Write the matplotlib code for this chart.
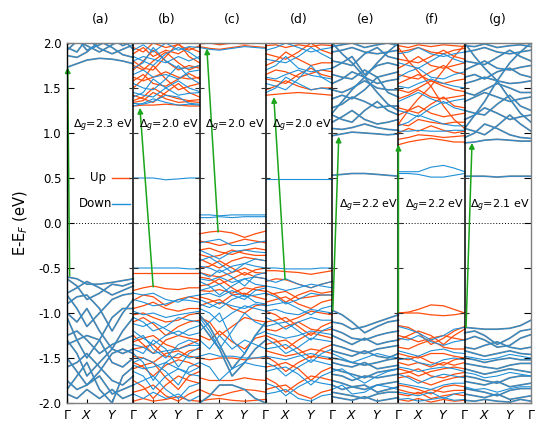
import matplotlib
matplotlib.use("Agg")
import matplotlib.pyplot as plt

# ---------------- data ----------------
PANELS = ["(a)", "(b)", "(c)", "(d)", "(e)", "(f)", "(g)"]
GAPS = ["2.3", "2.0", "2.0", "2.0", "2.2", "2.2", "2.1"]
KPATH = [0.0, 0.15, 0.30, 0.49, 0.68, 0.84, 1.0]   # Γ ... X ... Y ... Γ
KLABELS = [r"$\Gamma$", r"$X$", r"$Y$"]
KLABEL_POS = [0.0, 0.30, 0.68]

# arrow (VBM -> CBM) per panel: k-position within panel and energy
VBM_K = [0.04, 0.30, 0.28, 0.29, 0.01, 0.0, 0.02]
VBM_E = [-0.59, -0.71, -0.10, -0.63, -0.97, -0.99, -1.16]
CBM_K = [0.01, 0.10, 0.11, 0.12, 0.10, 0.0, 0.11]
CBM_E = [1.73, 1.28, 1.94, 1.40, 0.96, 0.87, 0.89]

A_BOTH = [
    [1.73, 1.77, 1.81, 1.83, 1.82, 1.80, 1.77],
    [1.86, 1.84, 1.90, 2.02, 1.95, 1.87, 1.84],
    [1.92, 2.02, 1.97, 1.90, 1.98, 2.04, 1.93],
    [1.95, 1.90, 2.05, 1.94, 1.88, 1.93, 1.98],
    [1.98, 2.05, 1.92, 1.98, 2.05, 1.97, 2.02],
    [-0.60, -0.62, -0.68, -0.68, -0.66, -0.64, -0.62],
    [-0.62, -0.70, -0.85, -0.78, -0.68, -0.70, -0.66],
    [-0.78, -0.72, -0.65, -0.72, -0.80, -0.75, -0.70],
    [-0.80, -0.95, -1.15, -1.00, -0.85, -0.80, -0.78],
    [-0.90, -0.82, -0.80, -0.95, -1.20, -1.00, -0.85],
    [-1.00, -1.10, -0.95, -1.20, -1.40, -1.20, -1.05],
    [-1.05, -1.30, -1.50, -1.30, -1.05, -0.95, -0.95],
    [-1.25, -1.20, -1.30, -1.45, -1.35, -1.30, -1.25],
    [-1.30, -1.45, -1.70, -1.55, -1.40, -1.45, -1.40],
    [-1.35, -1.30, -1.25, -1.30, -1.55, -1.60, -1.50],
    [-1.50, -1.65, -1.80, -1.65, -1.45, -1.40, -1.45],
    [-1.60, -1.55, -1.45, -1.60, -1.75, -1.80, -1.70],
    [-1.75, -1.85, -1.80, -1.70, -1.90, -1.85, -1.80],
    [-1.90, -1.95, -1.85, -1.95, -1.85, -1.95, -1.90],
    [-1.85, -1.70, -1.55, -1.85, -2.00, -1.70, -1.60],
]
A_UP = []
A_DOWN = []

B_BOTH = []
B_UP = [
    [1.30, 1.31, 1.31, 1.32, 1.31, 1.30, 1.30],
    [1.34, 1.36, 1.45, 1.38, 1.34, 1.35, 1.34],
    [1.36, 1.40, 1.50, 1.42, 1.38, 1.36, 1.37],
    [1.42, 1.38, 1.34, 1.45, 1.55, 1.45, 1.40],
    [1.50, 1.60, 1.75, 1.60, 1.48, 1.52, 1.55],
    [1.58, 1.65, 1.55, 1.52, 1.60, 1.66, 1.60],
    [1.62, 1.58, 1.62, 1.68, 1.62, 1.60, 1.62],
    [1.70, 1.80, 1.92, 1.80, 1.70, 1.75, 1.72],
    [1.75, 1.70, 1.80, 1.90, 1.78, 1.70, 1.75],
    [1.80, 1.72, 1.70, 1.85, 2.00, 1.85, 1.78],
    [1.88, 1.95, 1.85, 1.92, 1.88, 1.95, 1.90],
    [1.95, 1.90, 2.00, 1.95, 1.98, 1.92, 1.97],
    [-0.55, -0.55, -0.55, -0.55, -0.55, -0.55, -0.55],
    [-0.75, -0.72, -0.70, -0.73, -0.74, -0.72, -0.72],
    [-0.86, -0.80, -0.82, -0.92, -0.85, -0.82, -0.85],
    [-0.95, -0.92, -0.88, -0.95, -0.98, -0.95, -0.95],
    [-1.02, -1.00, -1.05, -1.10, -1.08, -1.02, -1.00],
    [-1.10, -1.05, -1.12, -1.25, -1.15, -1.10, -1.08],
    [-1.25, -1.35, -1.45, -1.30, -1.25, -1.28, -1.30],
    [-1.32, -1.28, -1.25, -1.35, -1.40, -1.35, -1.30],
    [-1.40, -1.38, -1.35, -1.48, -1.50, -1.42, -1.40],
    [-1.48, -1.50, -1.55, -1.45, -1.42, -1.48, -1.50],
    [-1.55, -1.60, -1.70, -1.58, -1.52, -1.55, -1.60],
    [-1.62, -1.58, -1.55, -1.72, -1.85, -1.70, -1.65],
    [-1.75, -1.82, -1.95, -1.80, -1.70, -1.75, -1.78],
    [-1.88, -1.85, -1.80, -1.92, -1.98, -1.90, -1.85],
    [-1.98, -1.95, -1.98, -1.96, -1.93, -1.97, -1.98],
]
B_DOWN = [
    [1.30, 1.33, 1.38, 1.34, 1.31, 1.32, 1.31],
    [1.33, 1.32, 1.35, 1.42, 1.40, 1.33, 1.32],
    [1.40, 1.45, 1.60, 1.50, 1.42, 1.44, 1.45],
    [1.45, 1.42, 1.40, 1.50, 1.58, 1.50, 1.46],
    [1.55, 1.50, 1.48, 1.60, 1.75, 1.62, 1.55],
    [1.65, 1.70, 1.62, 1.65, 1.60, 1.68, 1.70],
    [1.72, 1.78, 1.95, 1.80, 1.72, 1.72, 1.75],
    [1.80, 1.85, 1.82, 1.78, 1.85, 1.80, 1.85],
    [1.85, 1.80, 1.75, 1.88, 1.95, 1.90, 1.82],
    [1.92, 1.98, 1.90, 2.00, 1.92, 1.96, 1.95],
    [0.50, 0.50, 0.50, 0.48, 0.49, 0.50, 0.50],
    [-0.50, -0.50, -0.50, -0.50, -0.50, -0.51, -0.51],
    [-0.78, -0.80, -0.78, -0.85, -0.88, -0.82, -0.80],
    [-0.85, -0.88, -0.92, -0.90, -0.85, -0.86, -0.88],
    [-0.98, -1.02, -1.00, -1.05, -1.02, -1.00, -0.98],
    [-1.05, -1.10, -1.20, -1.15, -1.05, -1.08, -1.10],
    [-1.12, -1.15, -1.10, -1.18, -1.25, -1.18, -1.14],
    [-1.20, -1.28, -1.35, -1.25, -1.20, -1.25, -1.22],
    [-1.30, -1.25, -1.40, -1.50, -1.35, -1.30, -1.35],
    [-1.35, -1.38, -1.45, -1.42, -1.40, -1.36, -1.36],
    [-1.40, -1.45, -1.30, -1.40, -1.60, -1.45, -1.38],
    [-1.45, -1.55, -1.75, -1.55, -1.45, -1.50, -1.48],
    [-1.55, -1.50, -1.55, -1.65, -1.80, -1.60, -1.55],
    [-1.58, -1.62, -1.60, -1.55, -1.62, -1.66, -1.60],
    [-1.65, -1.70, -1.85, -1.70, -1.62, -1.68, -1.70],
    [-1.80, -1.75, -1.70, -1.85, -1.95, -1.82, -1.78],
    [-1.90, -1.95, -1.88, -1.95, -1.90, -1.98, -1.92],
]

C_BOTH = [
    [-1.02, -1.15, -1.35, -1.62, -1.45, -1.25, -1.10],
    [-1.10, -1.25, -1.40, -1.70, -1.55, -1.40, -1.30],
    [-2.00, -1.92, -1.80, -1.80, -1.85, -1.95, -2.00],
]
C_UP = [
    [1.96, 1.94, 1.93, 1.95, 1.97, 1.96, 1.95],
    [1.99, 2.00, 1.98, 2.00, 1.99, 2.00, 2.00],
    [-0.12, -0.10, -0.09, -0.11, -0.16, -0.12, -0.09],
    [-0.20, -0.22, -0.25, -0.22, -0.18, -0.20, -0.22],
    [-0.30, -0.28, -0.32, -0.35, -0.30, -0.28, -0.30],
    [-0.35, -0.38, -0.36, -0.30, -0.34, -0.36, -0.36],
    [-0.40, -0.45, -0.50, -0.42, -0.38, -0.40, -0.42],
    [-0.50, -0.48, -0.42, -0.50, -0.58, -0.52, -0.50],
    [-0.55, -0.58, -0.60, -0.55, -0.50, -0.55, -0.56],
    [-0.60, -0.62, -0.68, -0.62, -0.55, -0.60, -0.62],
    [-0.70, -0.68, -0.62, -0.72, -0.80, -0.72, -0.70],
    [-0.75, -0.76, -0.74, -0.78, -0.72, -0.74, -0.76],
    [-0.82, -0.85, -0.90, -0.80, -0.78, -0.82, -0.85],
    [-0.92, -0.88, -0.85, -0.95, -1.00, -0.92, -0.90],
    [-1.05, -1.10, -1.25, -1.15, -1.05, -1.08, -1.10],
    [-1.25, -1.30, -1.20, -1.32, -1.40, -1.28, -1.25],
    [-1.50, -1.52, -1.50, -1.50, -1.52, -1.50, -1.50],
    [-1.72, -1.75, -1.75, -1.75, -1.72, -1.74, -1.75],
    [-1.85, -1.90, -1.92, -1.88, -1.85, -1.86, -1.88],
    [-1.98, -1.96, -1.95, -1.97, -1.98, -1.97, -1.96],
]
C_DOWN = [
    [1.95, 1.93, 1.92, 1.94, 1.96, 1.95, 1.94],
    [0.06, 0.06, 0.07, 0.06, 0.07, 0.07, 0.07],
    [0.09, 0.09, 0.08, 0.09, 0.09, 0.09, 0.09],
    [-0.22, -0.20, -0.18, -0.25, -0.25, -0.22, -0.20],
    [-0.30, -0.35, -0.40, -0.32, -0.30, -0.32, -0.33],
    [-0.42, -0.38, -0.45, -0.55, -0.45, -0.40, -0.42],
    [-0.48, -0.50, -0.55, -0.48, -0.45, -0.48, -0.50],
    [-0.55, -0.60, -0.52, -0.60, -0.70, -0.58, -0.55],
    [-0.62, -0.64, -0.60, -0.66, -0.62, -0.60, -0.62],
    [-0.65, -0.70, -0.80, -0.70, -0.62, -0.68, -0.70],
    [-0.75, -0.72, -0.68, -0.80, -0.85, -0.75, -0.72],
    [-0.80, -0.78, -0.82, -0.75, -0.82, -0.80, -0.78],
    [-0.85, -0.90, -0.95, -0.85, -0.80, -0.88, -0.90],
    [-0.90, -0.94, -0.88, -0.92, -0.95, -0.90, -0.92],
    [-0.95, -1.00, -1.10, -1.00, -0.92, -0.95, -0.98],
    [-1.05, -1.20, -1.40, -1.20, -1.00, -1.10, -1.15],
    [-1.20, -1.10, -1.00, -1.30, -1.45, -1.25, -1.20],
    [-1.30, -1.40, -1.25, -1.40, -1.30, -1.35, -1.40],
    [-1.48, -1.45, -1.48, -1.48, -1.50, -1.50, -1.48],
    [-1.55, -1.60, -1.75, -1.62, -1.55, -1.58, -1.60],
]

D_BOTH = []
D_UP = [
    [1.42, 1.43, 1.44, 1.45, 1.44, 1.43, 1.42],
    [1.48, 1.52, 1.58, 1.52, 1.48, 1.50, 1.50],
    [1.60, 1.58, 1.55, 1.65, 1.72, 1.65, 1.62],
    [1.65, 1.70, 1.68, 1.62, 1.66, 1.70, 1.68],
    [1.75, 1.80, 1.90, 1.82, 1.75, 1.78, 1.78],
    [1.88, 1.85, 1.82, 1.90, 2.00, 1.92, 1.88],
    [1.97, 1.98, 1.95, 1.98, 1.96, 1.98, 1.97],
    [-0.53, -0.53, -0.54, -0.55, -0.57, -0.55, -0.53],
    [-0.65, -0.62, -0.63, -0.68, -0.72, -0.68, -0.65],
    [-0.75, -0.80, -0.88, -0.80, -0.75, -0.78, -0.76],
    [-0.80, -0.78, -0.76, -0.84, -0.82, -0.80, -0.80],
    [-0.88, -0.85, -0.82, -0.90, -0.95, -0.88, -0.85],
    [-0.98, -1.02, -1.10, -1.05, -0.98, -1.00, -1.02],
    [-1.10, -1.08, -1.05, -1.15, -1.25, -1.15, -1.10],
    [-1.18, -1.20, -1.15, -1.10, -1.18, -1.20, -1.18],
    [-1.25, -1.30, -1.40, -1.30, -1.22, -1.25, -1.28],
    [-1.35, -1.32, -1.30, -1.40, -1.50, -1.40, -1.35],
    [-1.42, -1.45, -1.48, -1.45, -1.40, -1.42, -1.45],
    [-1.48, -1.55, -1.65, -1.55, -1.48, -1.50, -1.52],
    [-1.60, -1.58, -1.55, -1.62, -1.75, -1.65, -1.60],
    [-1.72, -1.78, -1.88, -1.78, -1.70, -1.72, -1.75],
    [-1.85, -1.82, -1.80, -1.90, -1.95, -1.88, -1.85],
]
D_DOWN = [
    [1.45, 1.50, 1.62, 1.55, 1.48, 1.50, 1.48],
    [1.55, 1.52, 1.48, 1.60, 1.75, 1.62, 1.55],
    [1.62, 1.60, 1.65, 1.70, 1.64, 1.62, 1.60],
    [1.70, 1.75, 1.85, 1.72, 1.68, 1.70, 1.72],
    [1.82, 1.80, 1.78, 1.85, 1.95, 1.88, 1.82],
    [1.92, 1.95, 2.00, 1.95, 1.90, 1.93, 1.95],
    [0.49, 0.49, 0.49, 0.49, 0.49, 0.49, 0.49],
    [-0.50, -0.50, -0.51, -0.51, -0.51, -0.50, -0.50],
    [-0.63, -0.66, -0.62, -0.68, -0.72, -0.68, -0.65],
    [-0.70, -0.72, -0.75, -0.72, -0.68, -0.70, -0.72],
    [-0.78, -0.82, -0.90, -0.85, -0.78, -0.80, -0.80],
    [-0.92, -0.90, -0.88, -0.95, -1.02, -0.95, -0.92],
    [-0.98, -0.96, -1.00, -1.02, -0.96, -0.98, -1.00],
    [-1.05, -1.10, -1.18, -1.10, -1.05, -1.08, -1.08],
    [-1.15, -1.12, -1.10, -1.20, -1.30, -1.20, -1.15],
    [-1.22, -1.25, -1.28, -1.25, -1.20, -1.22, -1.24],
    [-1.28, -1.35, -1.45, -1.38, -1.28, -1.30, -1.32],
    [-1.40, -1.38, -1.35, -1.45, -1.55, -1.45, -1.40],
    [-1.48, -1.50, -1.52, -1.48, -1.45, -1.48, -1.50],
    [-1.55, -1.60, -1.70, -1.60, -1.52, -1.55, -1.58],
    [-1.65, -1.62, -1.60, -1.68, -1.80, -1.70, -1.65],
    [-1.78, -1.82, -1.92, -1.82, -1.75, -1.78, -1.80],
    [-1.90, -1.88, -1.85, -1.95, -1.98, -1.92, -1.90],
]

E_BOTH = [
    [0.97, 0.99, 1.01, 1.00, 0.99, 0.98, 0.99],
    [1.05, 1.04, 1.06, 1.10, 1.06, 1.04, 1.03],
    [1.12, 1.18, 1.25, 1.15, 1.10, 1.12, 1.15],
    [1.20, 1.15, 1.12, 1.25, 1.35, 1.25, 1.20],
    [1.28, 1.32, 1.40, 1.35, 1.28, 1.30, 1.30],
    [1.38, 1.42, 1.38, 1.48, 1.62, 1.45, 1.40],
    [1.48, 1.45, 1.50, 1.58, 1.50, 1.48, 1.48],
    [1.55, 1.60, 1.68, 1.62, 1.55, 1.58, 1.60],
    [1.65, 1.62, 1.60, 1.70, 1.62, 1.65, 1.68],
    [1.72, 1.78, 1.85, 1.65, 1.75, 1.78, 1.75],
    [1.80, 1.78, 1.75, 1.88, 1.95, 1.85, 1.82],
    [1.90, 1.92, 1.95, 1.90, 1.88, 1.90, 1.92],
    [1.96, 1.98, 2.00, 1.95, 1.98, 2.00, 1.97],
    [2.00, 1.88, 1.78, 1.62, 1.45, 1.32, 1.25],
    [1.22, 1.35, 1.48, 1.62, 1.78, 1.90, 2.00],
    [0.53, 0.54, 0.55, 0.55, 0.54, 0.53, 0.52],
    [-0.97, -1.02, -1.10, -1.22, -1.15, -1.10, -1.08],
    [-1.10, -1.12, -1.18, -1.15, -1.10, -1.06, -1.02],
    [-1.18, -1.22, -1.28, -1.30, -1.25, -1.22, -1.20],
    [-1.25, -1.30, -1.35, -1.28, -1.35, -1.32, -1.30],
    [-1.35, -1.38, -1.42, -1.45, -1.40, -1.38, -1.36],
    [-1.42, -1.45, -1.48, -1.42, -1.48, -1.50, -1.45],
    [-1.50, -1.52, -1.55, -1.58, -1.55, -1.52, -1.50],
    [-1.55, -1.58, -1.60, -1.55, -1.62, -1.60, -1.58],
    [-1.62, -1.65, -1.68, -1.72, -1.66, -1.64, -1.62],
    [-1.68, -1.70, -1.75, -1.70, -1.72, -1.70, -1.68],
    [-1.75, -1.78, -1.82, -1.85, -1.80, -1.78, -1.76],
    [-1.80, -1.85, -1.82, -1.80, -1.88, -1.85, -1.82],
    [-1.88, -1.90, -1.92, -1.95, -1.90, -1.88, -1.88],
    [-1.93, -1.95, -1.97, -1.93, -1.98, -1.96, -1.94],
]
E_UP = []
E_DOWN = [
    [-1.45, -1.50, -1.55, -1.50, -1.45, -1.48, -1.50],
    [-1.65, -1.62, -1.70, -1.78, -1.70, -1.65, -1.62],
    [-1.85, -1.80, -1.90, -1.88, -1.80, -1.82, -1.85],
]

F_BOTH = []
F_UP = [
    [0.87, 0.90, 0.92, 0.94, 0.92, 0.90, 0.90],
    [0.93, 0.95, 0.98, 0.97, 0.95, 0.96, 0.97],
    [1.00, 1.05, 1.02, 1.08, 1.03, 1.00, 1.02],
    [1.10, 1.08, 1.15, 1.12, 1.10, 1.12, 1.12],
    [1.20, 1.25, 1.30, 1.22, 1.18, 1.20, 1.22],
    [1.28, 1.25, 1.22, 1.32, 1.40, 1.30, 1.28],
    [1.38, 1.42, 1.48, 1.40, 1.38, 1.40, 1.42],
    [1.48, 1.45, 1.50, 1.58, 1.52, 1.48, 1.46],
    [1.55, 1.60, 1.65, 1.58, 1.55, 1.58, 1.60],
    [1.65, 1.62, 1.60, 1.68, 1.75, 1.68, 1.65],
    [1.72, 1.78, 1.85, 1.75, 1.72, 1.75, 1.78],
    [1.82, 1.80, 1.78, 1.85, 1.92, 1.85, 1.82],
    [1.90, 1.92, 1.95, 1.90, 1.88, 1.92, 1.94],
    [1.97, 1.95, 1.98, 1.96, 1.98, 1.97, 1.96],
    [1.95, 1.80, 1.68, 1.52, 1.30, 1.15, 1.05],
    [1.10, 1.25, 1.38, 1.52, 1.70, 1.85, 1.98],
    [-1.00, -1.00, -1.00, -1.02, -1.03, -1.02, -1.00],
    [-1.00, -0.99, -0.96, -0.91, -0.92, -0.96, -1.00],
    [-1.14, -1.16, -1.22, -1.35, -1.28, -1.20, -1.15],
    [-1.25, -1.28, -1.32, -1.28, -1.25, -1.28, -1.30],
    [-1.30, -1.25, -1.20, -1.25, -1.35, -1.25, -1.18],
    [-1.38, -1.40, -1.35, -1.30, -1.38, -1.40, -1.40],
    [-1.45, -1.48, -1.50, -1.45, -1.45, -1.48, -1.50],
    [-1.50, -1.52, -1.48, -1.55, -1.58, -1.52, -1.50],
    [-1.55, -1.58, -1.55, -1.60, -1.55, -1.58, -1.55],
    [-1.62, -1.65, -1.70, -1.65, -1.62, -1.60, -1.62],
    [-1.68, -1.66, -1.62, -1.70, -1.72, -1.68, -1.66],
    [-1.72, -1.70, -1.75, -1.80, -1.75, -1.72, -1.70],
    [-1.80, -1.82, -1.85, -1.90, -1.82, -1.80, -1.82],
    [-1.85, -1.88, -1.90, -1.85, -1.88, -1.86, -1.86],
    [-1.90, -1.92, -1.88, -1.95, -1.92, -1.90, -1.92],
    [-1.96, -1.98, -1.95, -1.99, -1.96, -1.98, -1.97],
]
F_DOWN = [
    [1.02, 1.02, 1.03, 1.02, 1.02, 1.03, 1.03],
    [1.08, 1.12, 1.20, 1.15, 1.10, 1.08, 1.08],
    [1.25, 1.22, 1.18, 1.28, 1.35, 1.28, 1.25],
    [1.35, 1.40, 1.45, 1.38, 1.33, 1.36, 1.38],
    [1.52, 1.50, 1.55, 1.60, 1.55, 1.52, 1.50],
    [1.62, 1.68, 1.72, 1.62, 1.60, 1.65, 1.68],
    [1.78, 1.75, 1.72, 1.80, 1.88, 1.82, 1.78],
    [1.88, 1.90, 1.95, 1.88, 1.85, 1.88, 1.90],
    [0.57, 0.57, 0.57, 0.62, 0.64, 0.61, 0.57],
    [0.55, 0.55, 0.54, 0.51, 0.51, 0.53, 0.55],
    [-1.15, -1.18, -1.22, -1.30, -1.25, -1.18, -1.16],
    [-1.28, -1.30, -1.25, -1.32, -1.36, -1.32, -1.30],
    [-1.42, -1.45, -1.48, -1.42, -1.40, -1.44, -1.45],
    [-1.52, -1.50, -1.55, -1.58, -1.52, -1.50, -1.52],
    [-1.60, -1.62, -1.65, -1.62, -1.60, -1.62, -1.65],
    [-1.68, -1.72, -1.78, -1.72, -1.68, -1.70, -1.72],
    [-1.78, -1.80, -1.82, -1.85, -1.80, -1.78, -1.78],
    [-1.88, -1.90, -1.92, -1.88, -1.95, -1.90, -1.88],
    [-1.96, -1.95, -1.98, -1.96, -1.94, -1.97, -1.96],
]

G_BOTH = [
    [0.89, 0.90, 0.92, 0.93, 0.92, 0.91, 0.91],
    [0.95, 1.00, 1.10, 1.05, 0.98, 0.95, 0.94],
    [1.05, 1.02, 0.98, 1.08, 1.20, 1.10, 1.02],
    [1.15, 1.20, 1.28, 1.22, 1.15, 1.18, 1.20],
    [1.25, 1.22, 1.20, 1.32, 1.42, 1.30, 1.25],
    [1.35, 1.40, 1.45, 1.40, 1.35, 1.38, 1.40],
    [1.45, 1.42, 1.48, 1.55, 1.50, 1.45, 1.45],
    [1.55, 1.58, 1.62, 1.58, 1.55, 1.56, 1.58],
    [1.62, 1.65, 1.60, 1.68, 1.72, 1.65, 1.62],
    [1.70, 1.75, 1.80, 1.72, 1.70, 1.73, 1.75],
    [1.80, 1.78, 1.76, 1.84, 1.92, 1.85, 1.80],
    [1.90, 1.92, 1.95, 1.90, 1.88, 1.90, 1.92],
    [1.97, 1.96, 1.99, 1.95, 1.97, 1.98, 1.96],
    [2.00, 1.85, 1.72, 1.58, 1.38, 1.22, 1.12],
    [1.05, 1.20, 1.35, 1.58, 1.78, 1.90, 2.00],
    [0.52, 0.52, 0.52, 0.51, 0.52, 0.52, 0.52],
    [-1.16, -1.17, -1.18, -1.18, -1.17, -1.14, -1.08],
    [-1.22, -1.20, -1.25, -1.35, -1.28, -1.20, -1.18],
    [-1.30, -1.26, -1.30, -1.38, -1.36, -1.28, -1.24],
    [-1.38, -1.40, -1.36, -1.32, -1.38, -1.40, -1.38],
    [-1.42, -1.45, -1.48, -1.45, -1.42, -1.45, -1.46],
    [-1.50, -1.52, -1.55, -1.52, -1.50, -1.52, -1.52],
    [-1.56, -1.58, -1.60, -1.62, -1.58, -1.56, -1.56],
    [-1.62, -1.65, -1.68, -1.65, -1.62, -1.64, -1.66],
    [-1.70, -1.72, -1.75, -1.78, -1.72, -1.70, -1.70],
    [-1.76, -1.78, -1.80, -1.76, -1.82, -1.80, -1.78],
    [-1.84, -1.86, -1.88, -1.92, -1.86, -1.84, -1.84],
    [-1.90, -1.92, -1.94, -1.90, -1.96, -1.94, -1.92],
    [-1.97, -1.98, -1.96, -1.98, -1.99, -1.96, -1.98],
]
G_UP = []
G_DOWN = [
    [-1.48, -1.50, -1.52, -1.50, -1.46, -1.48, -1.50],
    [-1.66, -1.68, -1.72, -1.70, -1.66, -1.68, -1.70],
    [-1.82, -1.85, -1.84, -1.88, -1.84, -1.82, -1.82],
]

BOTH = [A_BOTH, B_BOTH, C_BOTH, D_BOTH, E_BOTH, F_BOTH, G_BOTH]
UP = [A_UP, B_UP, C_UP, D_UP, E_UP, F_UP, G_UP]
DOWN = [A_DOWN, B_DOWN, C_DOWN, D_DOWN, E_DOWN, F_DOWN, G_DOWN]

# ---------------- style ----------------
C_UPCOL = "#ff4d0d"
C_DOWNCOL = "#1f90d8"
C_GREY = "#6f8294"
C_ARROW = "#1aa51a"

plt.rcParams["font.family"] = ["DejaVu Sans"]
fig = plt.figure(figsize=(5.53, 4.30), dpi=100)
ax = fig.add_axes([67 / 553, 1 - 403 / 430, 464 / 553, 360 / 430])
n = len(PANELS)
ax.set_xlim(0, n)
ax.set_ylim(-2.0, 2.0)

for i in range(n):
    xs = [i + k for k in KPATH]
    for b in UP[i]:
        ax.plot(xs, b, color=C_UPCOL, lw=0.9, zorder=2, solid_joinstyle="round")
    for b in DOWN[i]:
        ax.plot(xs, b, color=C_DOWNCOL, lw=0.8, zorder=3, solid_joinstyle="round")
    for b in BOTH[i]:
        ax.plot(xs, b, color=C_GREY, lw=1.25, zorder=2, solid_joinstyle="round")
        ax.plot(xs, b, color=C_DOWNCOL, lw=0.55, zorder=3, solid_joinstyle="round")

# zero line
ax.axhline(0.0, color="black", lw=0.7, ls=(0, (1, 2)), zorder=1)

# panel separators and their ticks
yt = [-2.0, -1.5, -1.0, -0.5, 0.0, 0.5, 1.0, 1.5, 2.0]
for i in range(1, n):
    ax.axvline(i, color="black", lw=1.1, zorder=5)
    ax.hlines(yt, i - 0.07, i + 0.07, color="#333333", lw=0.8, zorder=5)

# arrows
for i in range(n):
    ax.annotate("", xy=(i + CBM_K[i], CBM_E[i]), xytext=(i + VBM_K[i], VBM_E[i]),
                arrowprops=dict(arrowstyle="-|>", color=C_ARROW, lw=1.1,
                                mutation_scale=8, shrinkA=0, shrinkB=0),
                zorder=6)

# gap labels
for i in range(n):
    yy = 1.08 if i < 4 else 0.19
    ax.text(i + 0.99, yy, r"$\Delta_g$=" + GAPS[i] + " eV", ha="right", va="center",
            fontsize=8, zorder=7)

# panel titles
for i in range(n):
    ax.text(i + 0.5, 2.26, PANELS[i], ha="center", va="center", fontsize=9)

# legend (Up / Down) inside panel (a)
ax.text(0.084, 0.625, "Up", transform=ax.transAxes, ha="right", va="center", fontsize=8.5)
ax.plot([0.097, 0.136], [0.625, 0.625], transform=ax.transAxes, color=C_UPCOL, lw=1.0)
ax.text(0.097, 0.553, "Down", transform=ax.transAxes, ha="right", va="center", fontsize=8.5)
ax.plot([0.097, 0.136], [0.553, 0.553], transform=ax.transAxes, color=C_DOWNCOL, lw=1.0)

# axes ticks
ax.set_yticks(yt)
ax.set_yticklabels(["%.1f" % v for v in yt])
xt, xl = [], []
for i in range(n):
    for p, l in zip(KLABEL_POS, KLABELS):
        xt.append(i + p)
        xl.append(l)
xt.append(n)
xl.append(KLABELS[0])
ax.set_xticks(xt)
ax.set_xticklabels(xl, fontsize=9)
ax.tick_params(axis="y", direction="in", length=5, right=True, labelsize=8.5, pad=4)
ax.tick_params(axis="x", direction="in", length=3, labelsize=9, pad=4)
ax.set_ylabel(r"E-E$_F$ (eV)", fontsize=10.5, labelpad=6)

for s in ["top", "right", "bottom"]:
    ax.spines[s].set_color("#7f7f7f")
ax.spines["left"].set_color("black")
for s in ax.spines.values():
    s.set_linewidth(1.0)
    s.set_zorder(8)

fig.savefig("out.png", dpi=100)
